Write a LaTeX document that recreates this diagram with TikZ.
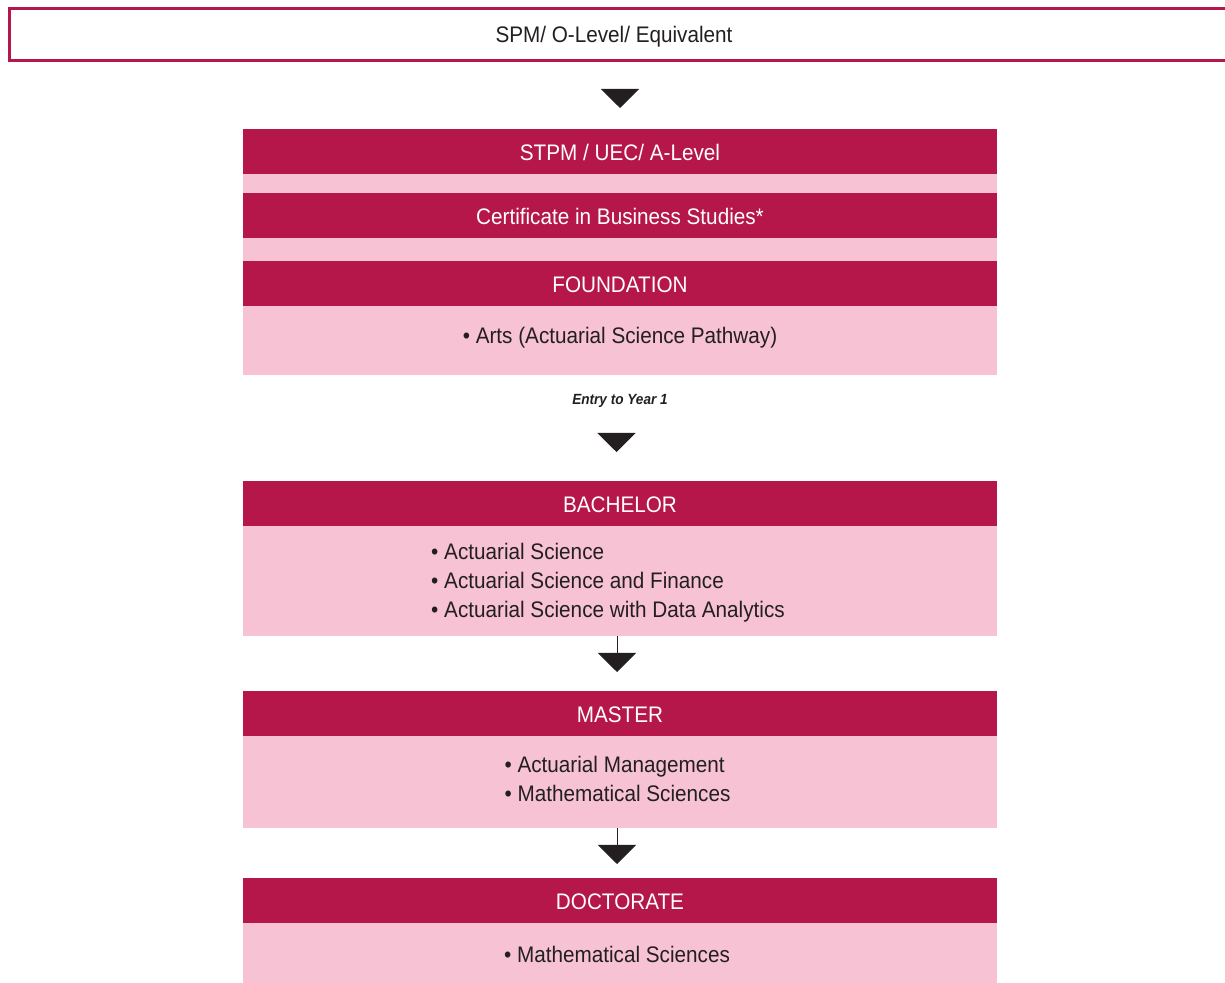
\documentclass[tikz,border=0pt]{standalone}
\usepackage{fontspec}
\setmainfont[FakeStretch=0.92]{Liberation Sans}
\usepackage{xcolor}
\usetikzlibrary{positioning,arrows.meta}

\definecolor{crimson}{RGB}{181,23,74}
\definecolor{blush}{RGB}{247,194,212}
\definecolor{ink}{RGB}{35,31,32}

\begin{document}
\begin{tikzpicture}[
    x=0.025cm, y=-0.025cm,
    node distance=0pt,
    every node/.style={outer sep=0pt, inner sep=0pt},
    txt/.style={font=\fontsize{16pt}{20.6pt}\selectfont, text=ink, align=left},
    band/.style={fill=crimson, text=white, minimum width=18.85cm,
                 minimum height=1.125cm, text height=13pt, text depth=0pt,
                 font=\fontsize{16pt}{19pt}\selectfont},
    plate/.style={fill=blush, minimum width=18.85cm},
    tri/.style={draw=ink, line width=0.6pt,
                -{Triangle[length=0.475cm, width=0.95cm]}, fill=ink}
]
    \useasboundingbox (0,0) rectangle (1225,983);

    % Entry box (cut off on the right)
    \node[draw=crimson, line width=2.1pt, minimum width=30.7cm, minimum height=1.3cm,
          anchor=west] (spm) at (9.5,34.5) {};
    \node[txt] (spmtext) at (614,37) {SPM/ O-Level/ Equivalent};

    % Pre-university stack
    \node[band, anchor=north] (stpm) at (620,129) {STPM / UEC/ A-Level};
    \node[plate, minimum height=0.475cm, below=of stpm] (gapa) {};
    \node[band, below=of gapa] (cert) {Certificate in Business Studies*};
    \node[plate, minimum height=0.575cm, below=of cert] (gapb) {};
    \node[band, below=of gapb] (found) {FOUNDATION};
    \node[plate, minimum height=1.725cm, below=of found] (foundbody) {};
    \node[txt] (foundlist) at (620,338) {\textbullet\ Arts (Actuarial Science Pathway)};

    \node[font=\fontsize{10.5pt}{12pt}\selectfont\bfseries\itshape, text=ink]
        (entry) at (620,401) {Entry to Year 1};

    % Degrees
    \node[band, anchor=north] (bach) at (620,481) {BACHELOR};
    \node[plate, minimum height=2.75cm, below=of bach] (bachbody) {};
    \node[txt] (bachlist) at (608,583) {\textbullet\ Actuarial Science\\
        \textbullet\ Actuarial Science and Finance\\
        \textbullet\ Actuarial Science with Data Analytics};

    \node[band, anchor=north] (mast) at (620,691) {MASTER};
    \node[plate, minimum height=2.3cm, below=of mast] (mastbody) {};
    \node[txt] (mastlist) at (617.5,779) {\textbullet\ Actuarial Management\\
        \textbullet\ Mathematical Sciences};

    \node[band, anchor=north] (doct) at (620,878) {DOCTORATE};
    \node[plate, minimum height=1.5cm, below=of doct] (doctbody) {};
    \node[txt] (doctlist) at (617,954) {\textbullet\ Mathematical Sciences};

    % Arrows
    \coordinate (tipa) at (620,108);
    \coordinate (tipb) at (616.5,452);
    \coordinate (tipc) at (617,672);
    \coordinate (tipd) at (617,864);
    \draw[tri] ([yshift=0.475cm]tipa) -- (tipa);
    \draw[tri] ([yshift=0.475cm]tipb) -- (tipb);
    \draw[tri] (tipc |- bachbody.south) -- (tipc);
    \draw[tri] (tipd |- mastbody.south) -- (tipd);
\end{tikzpicture}
\end{document}
